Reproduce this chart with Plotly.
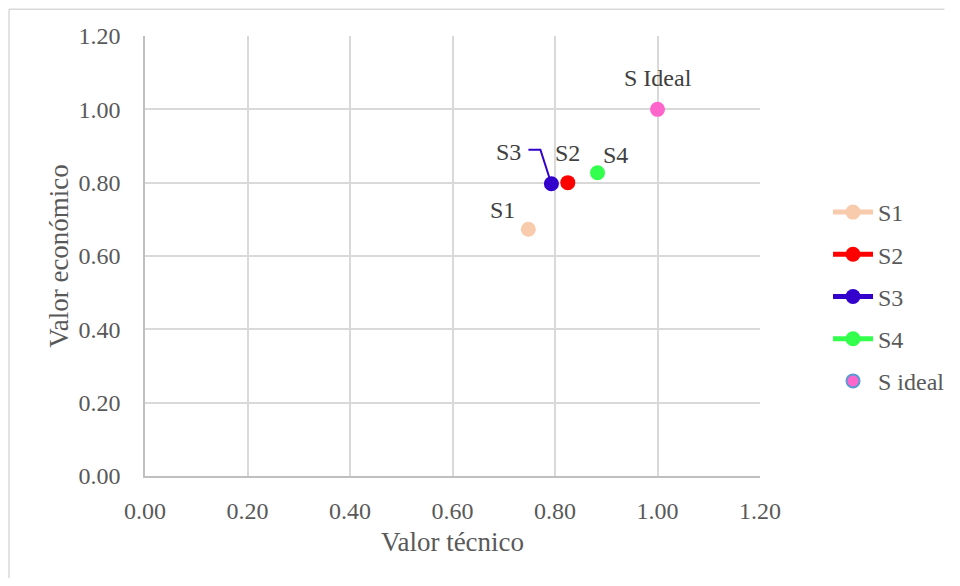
import plotly.graph_objects as go

names = ["S1", "S2", "S3", "S4"]
tech = [0.748, 0.825, 0.793, 0.883]
econ = [0.673, 0.80, 0.797, 0.827]
colors = ["#F8CBAD", "#FF0000", "#3300CC", "#33FF4D"]
ideal_x = [1.0]
ideal_y = [1.0]
ideal_label = "S Ideal"
ideal_legend = "S ideal"

font_family = "Liberation Serif, Times New Roman, serif"
fig = go.Figure()
for n, x, y, c in zip(names, tech, econ, colors):
    fig.add_trace(go.Scatter(x=[x], y=[y], name=n, mode="lines+markers",
                             legendgroup=n,
                             line=dict(color=c, width=5),
                             marker=dict(color=c, size=15)))
fig.add_trace(go.Scatter(x=ideal_x, y=ideal_y, name=ideal_legend, mode="markers",
                         showlegend=False,
                         marker=dict(color="#FF66CC", size=15, line=dict(width=0))))
fig.add_trace(go.Scatter(x=[None], y=[None], name=ideal_legend, mode="markers",
                         legendgroup="ideal",
                         marker=dict(color="#FF66CC", size=13,
                                     line=dict(color="#5B9BD5", width=2))))

label_font = dict(family=font_family, size=24, color="#404040")
shifts = {"S1": (-26, 19), "S2": (0, 30), "S4": (18, 18)}
for n, x, y in zip(names, tech, econ):
    if n in shifts:
        dx, dy = shifts[n]
        fig.add_annotation(x=x, y=y, text=n, showarrow=False, xshift=dx, yshift=dy,
                           font=label_font)
# S3 label with bent leader line
i3 = names.index("S3")
fig.add_annotation(x=tech[i3], y=econ[i3], text="S3", showarrow=False,
                   xshift=-43, yshift=32, font=label_font)
fig.add_shape(type="path", xref="x", yref="y", xsizemode="pixel", ysizemode="pixel",
              xanchor=tech[i3], yanchor=econ[i3],
              path="M-23,34 L-11,34 L-2,6",
              line=dict(color="#3300CC", width=2))
fig.add_annotation(x=ideal_x[0], y=ideal_y[0], text=ideal_label, showarrow=False,
                   yshift=31, font=label_font)

axis_common = dict(range=[0, 1.2], dtick=0.2, tickformat=".2f", showgrid=True,
                   gridcolor="#D9D9D9", gridwidth=1.5, zeroline=False,
                   showline=True, linecolor="#BFBFBF", linewidth=1.5, ticks="",
                   tickfont=dict(family=font_family, size=24, color="#595959"),
                   fixedrange=True)
fig.update_xaxes(**axis_common, ticklabelstandoff=12,
                 title=dict(text="Valor técnico",
                            font=dict(family=font_family, size=27, color="#595959"),
                            standoff=10))
fig.update_yaxes(**axis_common, ticklabelstandoff=18,
                 title=dict(text="Valor económico",
                            font=dict(family=font_family, size=27, color="#595959"),
                            standoff=2))

# chart-area border (top and left edges visible in the reference)
fig.add_shape(type="line", xref="paper", yref="paper", x0=-0.2211, x1=1.3, y0=1.061, y1=1.061,
              line=dict(color="#D9D9D9", width=1.5), layer="below")
fig.add_shape(type="line", xref="paper", yref="paper", x0=-0.2211, x1=-0.2211, y0=-0.25, y1=1.061,
              line=dict(color="#D9D9D9", width=1.5), layer="below")

fig.update_layout(width=944, height=570, plot_bgcolor="white", paper_bgcolor="white",
                  margin=dict(l=137, r=192, t=28, b=102, autoexpand=False),
                  legend=dict(x=1.1106, y=0.65, yanchor="top", xanchor="left",
                              tracegroupgap=8, itemwidth=40,
                              font=dict(family=font_family, size=24, color="#595959")),
                  showlegend=True)
fig.write_html("out.html")
